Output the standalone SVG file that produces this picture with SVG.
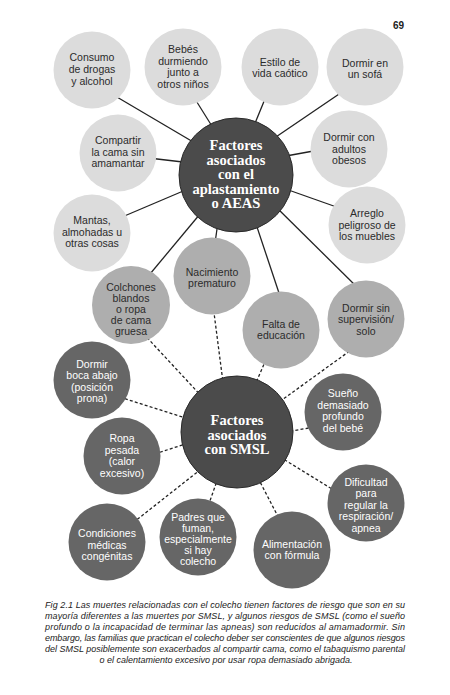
<svg xmlns="http://www.w3.org/2000/svg" width="450" height="695" viewBox="0 0 450 695">
<style>
.solid{stroke:#222;stroke-width:1.3;fill:none}
.dash{stroke:#222;stroke-width:1.3;fill:none;stroke-dasharray:3 2.2}
.light{fill:#dcdcdc}
.mid{fill:#aeaeae}
.dark{fill:#666666}
.hub{fill:#4b4b4b;stroke:#2a2a2a;stroke-width:1}
.t{font-family:"Liberation Sans",Arial,sans-serif;font-size:10.5px;text-anchor:middle;fill:#2b2b2b}
.tw{font-family:"Liberation Sans",Arial,sans-serif;font-size:10.5px;text-anchor:middle;fill:#ffffff}
.h{font-family:"Liberation Serif","Times New Roman",serif;font-size:14.5px;font-weight:bold;text-anchor:middle;fill:#ffffff}
.cap{font-family:"Liberation Sans",Arial,sans-serif;font-size:9px;font-style:italic;fill:#222}
.pg{font-family:"Liberation Sans",Arial,sans-serif;font-size:10px;font-weight:bold;fill:#222}
</style>
<rect width="450" height="695" fill="#ffffff"/>
<text class="pg" x="393" y="29">69</text>
<g id="connectors">
<line class="solid" x1="105" y1="90" x2="200" y2="146"/>
<line class="solid" x1="195" y1="99" x2="215" y2="131"/>
<line class="solid" x1="267" y1="94" x2="251" y2="133"/>
<line class="solid" x1="345" y1="90" x2="270" y2="141"/>
<line class="solid" x1="140" y1="157" x2="200" y2="164"/>
<line class="solid" x1="330" y1="148" x2="275" y2="158"/>
<line class="solid" x1="115" y1="220" x2="195" y2="186"/>
<line class="solid" x1="280" y1="187" x2="345" y2="210"/>
<line class="solid" x1="140" y1="286" x2="205" y2="208"/>
<line class="solid" x1="219" y1="215" x2="214" y2="250"/>
<line class="solid" x1="252" y1="212" x2="284" y2="308"/>
<line class="solid" x1="272" y1="203" x2="362" y2="292"/>
<line class="dash" x1="140" y1="330" x2="205" y2="400"/>
<line class="dash" x1="213" y1="305" x2="224" y2="390"/>
<line class="dash" x1="268" y1="355" x2="252" y2="392"/>
<line class="dash" x1="358" y1="345" x2="275" y2="405"/>
<line class="dash" x1="110" y1="394" x2="195" y2="421"/>
<line class="dash" x1="145" y1="457" x2="195" y2="441"/>
<line class="dash" x1="280" y1="433" x2="320" y2="426"/>
<line class="dash" x1="280" y1="457" x2="345" y2="497"/>
<line class="dash" x1="205" y1="466" x2="120" y2="533"/>
<line class="dash" x1="218" y1="478" x2="205" y2="515"/>
<line class="dash" x1="258" y1="478" x2="285" y2="530"/>
</g>
<g id="hub-aeas">
<circle class="hub" cx="236" cy="175" r="57"/>
<text class="h" x="236" y="150">Factores</text>
<text class="h" x="236" y="164.5">asociados</text>
<text class="h" x="236" y="179">con el</text>
<text class="h" x="236" y="193.5">aplastamiento</text>
<text class="h" x="236" y="208">o AEAS</text>
</g>
<g id="hub-smsl">
<circle class="hub" cx="237" cy="432" r="56"/>
<text class="h" x="237" y="425">Factores</text>
<text class="h" x="237" y="439.5">asociados</text>
<text class="h" x="237" y="454">con SMSL</text>
</g>
<g id="n-consumo"><circle class="light" cx="92" cy="70" r="38.5"/>
<text class="t" x="92" y="61">Consumo</text><text class="t" x="92" y="73">de drogas</text><text class="t" x="92" y="85">y alcohol</text></g>
<g id="n-bebes"><circle class="light" cx="183" cy="67" r="38.5"/>
<text class="t" x="183" y="53">Bebés</text><text class="t" x="183" y="64.5">durmiendo</text><text class="t" x="183" y="76">junto a</text><text class="t" x="183" y="87.5">otros niños</text></g>
<g id="n-estilo"><circle class="light" cx="280" cy="67" r="38.5"/>
<text class="t" x="280" y="66">Estilo de</text><text class="t" x="280" y="77">vida caótico</text></g>
<g id="n-sofa"><circle class="light" cx="365" cy="67" r="38.5"/>
<text class="t" x="365" y="66.5">Dormir en</text><text class="t" x="365" y="77.5">un sofá</text></g>
<g id="n-compartir"><circle class="light" cx="118" cy="153" r="38.5"/>
<text class="t" x="118" y="144">Compartir</text><text class="t" x="118" y="155.5">la cama sin</text><text class="t" x="118" y="167">amamantar</text></g>
<g id="n-obesos"><circle class="light" cx="349" cy="149" r="38.5"/>
<text class="t" x="349" y="141">Dormir con</text><text class="t" x="349" y="152.5">adultos</text><text class="t" x="349" y="164">obesos</text></g>
<g id="n-mantas"><circle class="light" cx="92" cy="233" r="38.5"/>
<text class="t" x="92" y="224">Mantas,</text><text class="t" x="92" y="235.5">almohadas u</text><text class="t" x="92" y="247">otras cosas</text></g>
<g id="n-arreglo"><circle class="light" cx="367" cy="225" r="38.5"/>
<text class="t" x="367" y="217">Arreglo</text><text class="t" x="367" y="228.5">peligroso de</text><text class="t" x="367" y="240">los muebles</text></g>
<g id="n-colchones"><circle class="mid" cx="131" cy="305" r="39"/>
<text class="t" x="131" y="290.5">Colchones</text><text class="t" x="131" y="301.5">blandos</text><text class="t" x="131" y="312.5">o ropa</text><text class="t" x="131" y="323.5">de cama</text><text class="t" x="131" y="334.5">gruesa</text></g>
<g id="n-nacimiento"><circle class="mid" cx="212" cy="276" r="38.5"/>
<text class="t" x="212" y="275.5">Nacimiento</text><text class="t" x="212" y="286.5">prematuro</text></g>
<g id="n-falta"><circle class="mid" cx="281" cy="330" r="38.5"/>
<text class="t" x="281" y="327.5">Falta de</text><text class="t" x="281" y="339">educación</text></g>
<g id="n-supervision"><circle class="mid" cx="366" cy="319" r="38.5"/>
<text class="t" x="366" y="311.5">Dormir sin</text><text class="t" x="366" y="323">supervisión/</text><text class="t" x="366" y="334.5">solo</text></g>
<g id="n-boca"><circle class="dark" cx="92" cy="380" r="38.5"/>
<text class="tw" x="92" y="367.5">Dormir</text><text class="tw" x="92" y="379">boca abajo</text><text class="tw" x="92" y="390.5">(posición</text><text class="tw" x="92" y="402">prona)</text></g>
<g id="n-ropa"><circle class="dark" cx="122" cy="456" r="38.5"/>
<text class="tw" x="122" y="442">Ropa</text><text class="tw" x="122" y="453.5">pesada</text><text class="tw" x="122" y="465">(calor</text><text class="tw" x="122" y="476.5">excesivo)</text></g>
<g id="n-sueno"><circle class="dark" cx="343" cy="412" r="38.5"/>
<text class="tw" x="343" y="397">Sueño</text><text class="tw" x="343" y="408.5">demasiado</text><text class="tw" x="343" y="420">profundo</text><text class="tw" x="343" y="431.5">del bebé</text></g>
<g id="n-dificultad"><circle class="dark" cx="366" cy="503" r="38.5"/>
<text class="tw" x="366" y="485.5">Dificultad</text><text class="tw" x="366" y="497">para</text><text class="tw" x="366" y="508.5">regular la</text><text class="tw" x="366" y="520">respiración/</text><text class="tw" x="366" y="531.5">apnea</text></g>
<g id="n-condiciones"><circle class="dark" cx="107" cy="542" r="38.5"/>
<text class="tw" x="107" y="537">Condiciones</text><text class="tw" x="107" y="548.5">médicas</text><text class="tw" x="107" y="560">congénitas</text></g>
<g id="n-padres"><circle class="dark" cx="198" cy="537" r="38.5"/>
<text class="tw" x="198" y="521">Padres que</text><text class="tw" x="198" y="532">fuman,</text><text class="tw" x="198" y="543">especialmente</text><text class="tw" x="198" y="554">si hay</text><text class="tw" x="198" y="565">colecho</text></g>
<g id="n-alimentacion"><circle class="dark" cx="292" cy="550" r="38.5"/>
<text class="tw" x="292" y="548">Alimentación</text><text class="tw" x="292" y="559">con fórmula</text></g>
<g id="caption">
<text class="cap" x="45" y="608" textLength="360" lengthAdjust="spacing">Fig 2.1 Las muertes relacionadas con el colecho tienen factores de riesgo que son en su</text>
<text class="cap" x="45" y="619" textLength="360" lengthAdjust="spacing">mayoría diferentes a las muertes por SMSL, y algunos riesgos de SMSL (como el sueño</text>
<text class="cap" x="45" y="630" textLength="360" lengthAdjust="spacing">profundo o la incapacidad de terminar las apneas) son reducidos al amamadormir. Sin</text>
<text class="cap" x="45" y="641" textLength="360" lengthAdjust="spacing">embargo, las familias que practican el colecho deber ser conscientes de que algunos riesgos</text>
<text class="cap" x="45" y="652" textLength="360" lengthAdjust="spacing">del SMSL posiblemente son exacerbados al compartir cama, como el tabaquismo parental</text>
<text class="cap" x="226" y="663" text-anchor="middle">o el calentamiento excesivo por usar ropa demasiado abrigada.</text>
</g>
</svg>
